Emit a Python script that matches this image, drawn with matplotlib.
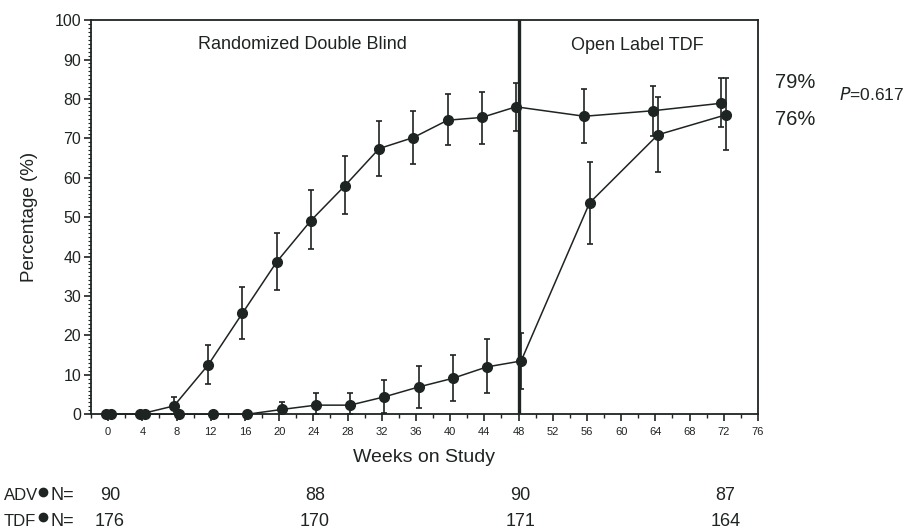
import numpy as np
import matplotlib.pyplot as plt
from matplotlib.lines import Line2D
from matplotlib.ticker import MultipleLocator
from matplotlib.transforms import blended_transform_factory

plt.rcParams['font.family'] = ['Liberation Sans', 'DejaVu Sans']

INK = '#1e2421'

# weeks on study for each visit
weeks = [0, 4, 8, 12, 16, 20, 24, 28, 32, 36, 40, 44, 48, 56, 64, 72]

# TDF arm (TDF in double blind, then open label TDF)
tdf_pct = [0, 0, 2.1, 12.5, 25.6, 38.6, 49.1, 58.0, 67.4, 70.2, 74.6, 75.3, 78.0, 75.6, 77.0, 78.9]
tdf_hi = [0, 0, 4.4, 17.5, 32.2, 45.9, 56.8, 65.4, 74.3, 77.0, 81.3, 81.7, 84.1, 82.4, 83.4, 85.2]
tdf_lo = [0, 0, 0.0, 7.6, 19.2, 31.5, 41.9, 50.8, 60.5, 63.5, 68.2, 68.6, 71.8, 68.8, 70.5, 72.8]

# ADV arm (ADV in double blind, switched to TDF at week 48)
adv_pct = [0, 0, 0, 0, 0, 1.2, 2.3, 2.3, 4.4, 6.9, 9.1, 12.0, 13.5, 53.6, 70.9, 76.0]
adv_hi = [0, 0, 0, 0, 0, 3.1, 5.4, 5.4, 8.6, 12.3, 15.0, 19.0, 20.7, 64.0, 80.4, 85.2]
adv_lo = [0, 0, 0, 0, 0, 0.0, 0.0, 0.0, 0.3, 1.6, 3.3, 5.3, 6.4, 43.2, 61.4, 67.1]

# patients at risk
n_weeks = [0, 24, 48, 72]
adv_n = [90, 88, 90, 87]
tdf_n = [176, 170, 171, 164]


def draw_arm(ax, x, pct, lo, hi, shift):
    x = np.array(x) + shift
    pct = np.array(pct)
    yerr = [pct - np.array(lo), np.array(hi) - pct]
    ax.errorbar(x, pct, yerr=yerr, color=INK, lw=1.1, marker='o', ms=7,
                mfc=INK, mec=INK, ecolor=INK, elinewidth=1.2, capsize=2.5,
                capthick=1.2, zorder=3, clip_on=False)


fig = plt.figure(figsize=(9.12, 5.29), dpi=100)
ax = fig.add_axes([0.0998, 0.217, 0.7313, 0.745])

draw_arm(ax, weeks, tdf_pct, tdf_lo, tdf_hi, -0.3)
draw_arm(ax, weeks, adv_pct, adv_lo, adv_hi, 0.3)

ax.axvline(48, color=INK, lw=2.4, zorder=4)

ax.set_xlim(-2, 76)
ax.set_ylim(0, 100)
ax.xaxis.set_major_locator(MultipleLocator(4))
ax.xaxis.set_minor_locator(MultipleLocator(2))
ax.yaxis.set_major_locator(MultipleLocator(10))
ax.yaxis.set_minor_locator(MultipleLocator(1))
ax.tick_params(axis='both', which='major', direction='out', length=5,
               width=1.2, color=INK)
ax.tick_params(axis='x', which='minor', direction='out', length=3,
               width=1.0, color=INK)
ax.tick_params(axis='y', which='minor', direction='out', length=2.5,
               width=0.8, color=INK)
ax.tick_params(axis='x', labelsize=8, pad=4, labelcolor=INK)
ax.tick_params(axis='y', labelsize=11.5, pad=2, labelcolor=INK)
for sp in ax.spines.values():
    sp.set_color(INK)
    sp.set_linewidth(1.3)

ax.set_xlabel('Weeks on Study', fontsize=14, color=INK, labelpad=9)
ax.set_ylabel('Percentage (%)', fontsize=13.5, color=INK, labelpad=12)

ax.text(22.7, 93.8, 'Randomized Double Blind', ha='center', va='center',
        fontsize=13, color=INK)
ax.text(61.9, 93.6, 'Open Label TDF', ha='center', va='center',
        fontsize=13, color=INK)

ax.text(1.026, 0.841, f'{tdf_pct[-1]:.0f}%', transform=ax.transAxes,
        ha='left', va='center', fontsize=14.5, color=INK)
ax.text(1.026, 0.747, f'{adv_pct[-1]:.0f}%', transform=ax.transAxes,
        ha='left', va='center', fontsize=14.5, color=INK)
ax.text(1.122, 0.81, r'$\it{P}$=0.617', transform=ax.transAxes,
        ha='left', va='center', fontsize=12.5, color=INK)

# numbers at risk below the axis
trans = blended_transform_factory(ax.transData, fig.transFigure)
row_y = [1 - 496 / 529, 1 - 521 / 529]
for y, name in zip(row_y, ['ADV', 'TDF']):
    fig.text(0.004, y, name, ha='left', va='center', fontsize=12, color=INK)
    fig.add_artist(Line2D([0.0475], [y + 0.007], marker='o', ms=6,
                          color=INK, transform=fig.transFigure))
    fig.text(0.055, y, 'N=', ha='left', va='center', fontsize=13, color=INK)
for w, a, t in zip(n_weeks, adv_n, tdf_n):
    ax.text(w + 0.2, row_y[0], str(a), transform=trans, ha='center',
            va='center', fontsize=13, color=INK)
    ax.text(w + 0.2, row_y[1], str(t), transform=trans, ha='center',
            va='center', fontsize=13, color=INK)

fig.savefig('out.png', dpi=100)
